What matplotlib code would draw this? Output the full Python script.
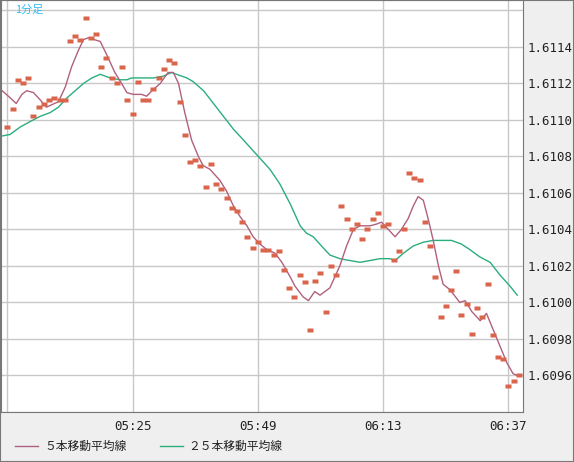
import numpy as np
import matplotlib.pyplot as plt

# minutes after 05:00
price_min = np.arange(1, 100)
price = [1.61096, 1.61106, 1.61122, 1.61120, 1.61123, 1.61102, 1.61107, 1.61109, 1.61111, 1.61112,
         1.61111, 1.61111, 1.61143, 1.61146, 1.61144, 1.61156, 1.61145, 1.61147, 1.61129, 1.61134,
         1.61123, 1.61120, 1.61129, 1.61111, 1.61103, 1.61121, 1.61111, 1.61111, 1.61117, 1.61123,
         1.61128, 1.61133, 1.61131, 1.61110, 1.61092, 1.61077, 1.61078, 1.61075, 1.61063, 1.61076,
         1.61065, 1.61062, 1.61057, 1.61052, 1.61050, 1.61044, 1.61036, 1.61030, 1.61033, 1.61029,
         1.61029, 1.61026, 1.61028, 1.61018, 1.61008, 1.61003, 1.61015, 1.61011, 1.60985, 1.61012,
         1.61016, 1.60995, 1.61020, 1.61015, 1.61053, 1.61046, 1.61040, 1.61043, 1.61035, 1.61040,
         1.61046, 1.61049, 1.61042, 1.61043, 1.61023, 1.61028, 1.61040, 1.61071, 1.61068, 1.61067,
         1.61044, 1.61031, 1.61014, 1.60992, 1.60998, 1.61007, 1.61017, 1.60993, 1.60999, 1.60983,
         1.60997, 1.60992, 1.61010, 1.60982, 1.60970, 1.60969, 1.60954, 1.60957, 1.60960]

ma5_min = [-0.4, 1.2, 2.7, 3.8, 4.7, 6.0, 7.3, 8.5, 10.8, 12.1, 13.3, 14.6, 15.6, 16.5, 18.8, 20.0,
           21.6, 22.9, 23.9, 25.1, 26.7, 27.7, 28.7, 30.3, 31.8, 32.8, 33.8, 35.0, 36.3, 37.6, 38.5,
           39.8, 41.7, 43.0, 44.3, 45.6, 46.9, 48.1, 49.4, 50.7, 52.3, 53.6, 55.2, 56.1, 57.7, 58.7,
           59.9, 60.9, 62.8, 64.7, 66.0, 67.3, 68.6, 70.5, 71.8, 72.7, 74.0, 75.3, 76.5, 77.8, 78.8,
           79.7, 80.7, 81.7, 82.6, 83.6, 84.5, 85.8, 87.7, 88.7, 90.0, 91.6, 92.8, 94.1, 95.4, 96.7,
           97.9, 98.7]
ma5 = [1.61117, 1.61113, 1.61109, 1.61114, 1.61116, 1.61115, 1.61111, 1.61107, 1.61110, 1.61118,
       1.61129, 1.61138, 1.61144, 1.61145, 1.61143, 1.61136, 1.61126, 1.61120, 1.61115, 1.61114,
       1.61114, 1.61113, 1.61116, 1.61120, 1.61126, 1.61126, 1.61120, 1.61104, 1.61089, 1.61080,
       1.61075, 1.61073, 1.61067, 1.61061, 1.61053, 1.61047, 1.61042, 1.61036, 1.61032, 1.61029,
       1.61027, 1.61022, 1.61014, 1.61009, 1.61003, 1.61001, 1.61006, 1.61004, 1.61008, 1.61020,
       1.61031, 1.61040, 1.61042, 1.61042, 1.61043, 1.61044, 1.61040, 1.61036, 1.61040, 1.61046,
       1.61053, 1.61058, 1.61056, 1.61045, 1.61034, 1.61020, 1.61010, 1.61007, 1.61000, 1.61001,
       1.60995, 1.60990, 1.60994, 1.60985, 1.60976, 1.60967, 1.60961, 1.60960]

ma25_min = [-0.4, 1.5, 3.4, 5.3, 7.3, 9.2, 10.8, 12.4, 14.0, 15.6, 17.2, 18.8, 20.7, 22.6, 23.9, 24.8,
            27.1, 29.0, 30.9, 32.5, 33.4, 35.4, 36.6, 38.6, 40.5, 42.4, 44.3, 45.6, 47.5, 49.4, 51.3,
            53.2, 55.2, 57.1, 58.3, 59.6, 61.5, 62.8, 64.7, 66.6, 68.6, 70.5, 72.4, 74.3, 75.3, 76.9,
            78.8, 80.7, 82.6, 84.5, 86.1, 88.0, 89.6, 91.5, 93.5, 95.4, 97.3, 98.7]
ma25 = [1.61091, 1.61092, 1.61096, 1.61099, 1.61102, 1.61104, 1.61107, 1.61112, 1.61116, 1.61120,
        1.61123, 1.61125, 1.61123, 1.61122, 1.61122, 1.61123, 1.61123, 1.61123, 1.61124, 1.61126,
        1.61125, 1.61123, 1.61121, 1.61116, 1.61109, 1.61102, 1.61095, 1.61091, 1.61085, 1.61079,
        1.61073, 1.61065, 1.61054, 1.61042, 1.61038, 1.61036, 1.61030, 1.61026, 1.61024, 1.61023,
        1.61022, 1.61023, 1.61024, 1.61024, 1.61023, 1.61027, 1.61031, 1.61033, 1.61034, 1.61034,
        1.61034, 1.61032, 1.61029, 1.61025, 1.61022, 1.61015, 1.61009, 1.61004]

xticks = [1, 25, 49, 73, 97]
xlabels = ["", "05:25", "05:49", "06:13", "06:37"]
yticks = np.round(np.arange(1.6094, 1.61161, 0.0002), 4)

bg = '#efefef'
jp = ['Noto Sans CJK JP', 'DejaVu Sans']
fig = plt.figure(figsize=(5.74, 4.62), dpi=100, facecolor=bg)
ax = fig.add_axes([1/574, 1 - 412/462, 522/574, 412/462])
ax.set_facecolor('white')

ax.plot(ma25_min, ma25, color='#2aae7c', lw=1.0, zorder=3)
ax.plot(ma5_min, ma5, color='#b0607f', lw=1.0, zorder=3)
box = [(-1.6, -0.9), (1.6, -0.9), (1.6, 0.9), (-1.6, 0.9)]
ax.plot(price_min, price, ls='none', marker=box, ms=5, mec='none', mfc='#d8654c', zorder=4)

ax.set_xlim(-0.21, 99.8)
ax.set_ylim(1.609405, 1.611657)
ax.set_xticks(xticks)
ax.set_xticklabels(xlabels)
ax.set_yticks(yticks)
ax.set_yticklabels([f"{v:.4f}" if 1.6095 < v < 1.6115 else "" for v in yticks])
ax.yaxis.tick_right()
ax.tick_params(length=0, labelsize=9, colors='#222222')
ax.tick_params(axis='y', pad=3)
ax.tick_params(axis='x', pad=6)
for lab in ax.get_xticklabels() + ax.get_yticklabels():
    lab.set_family('DejaVu Sans Mono')
ax.grid(True, color='#c8c8c8', lw=1)
ax.set_axisbelow(True)
for s in ax.spines.values():
    s.set_color('#777777')

ax.text(14/522, 1 - 10/412, "1分足", transform=ax.transAxes, color='#33bbee', fontsize=8,
        family=jp, va='center', zorder=5)

# legend along bottom
ly = 16/462
fig.add_artist(plt.Line2D([15/574, 38/574], [ly, ly], color='#b0607f', lw=1))
fig.text(44/574, ly, "５本移動平均線", fontsize=8.5, va='center', family=jp, color='#222222')
fig.add_artist(plt.Line2D([160/574, 183/574], [ly, ly], color='#2aae7c', lw=1))
fig.text(188/574, ly, "２５本移動平均線", fontsize=8.5, va='center', family=jp, color='#222222')
fig.add_artist(plt.Rectangle((0, 0), 1, 1, transform=fig.transFigure, fill=False,
                             ec='#777777', lw=1.5))

fig.savefig('out.png', dpi=100, facecolor=bg)
